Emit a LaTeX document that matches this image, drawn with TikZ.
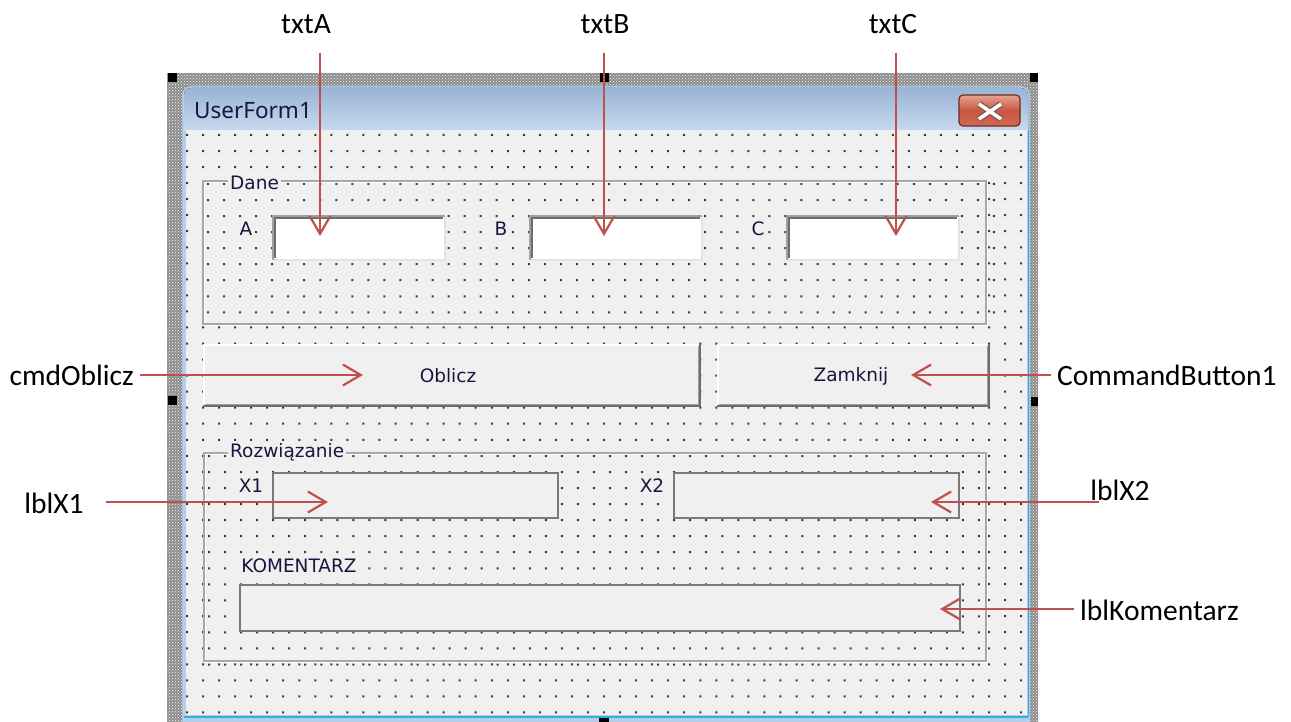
\documentclass[tikz,border=0pt]{standalone}
\usepackage{fontspec}
\setmainfont{Carlito}
\newfontfamily\uifont{DejaVu Sans}
\newfontfamily\titlefont{Noto Sans}
\usetikzlibrary{arrows.meta,patterns,calc}
\definecolor{formbg}{HTML}{F0F0F0}
\definecolor{dotc}{HTML}{3A3A3A}
\definecolor{arrred}{HTML}{C0504D}
\definecolor{uitext}{HTML}{16163E}
\definecolor{framegray}{HTML}{A8A8A8}
\definecolor{edgedark}{HTML}{6D6D6D}
\definecolor{edgemid}{HTML}{A0A0A0}
\definecolor{edgelight}{HTML}{E3E3E3}
\definecolor{lblborder}{HTML}{7A7A7A}
\definecolor{titletop}{HTML}{99B4D6}
\definecolor{titlebot}{HTML}{C8DAEE}
\definecolor{winedge}{HTML}{B4CEEA}
\definecolor{wincyan}{HTML}{30B0DC}
\definecolor{closetop}{HTML}{E6A494}
\definecolor{closemid}{HTML}{C85640}
\definecolor{closebot}{HTML}{D26A52}
\definecolor{closeedge}{HTML}{6E2A22}
\definecolor{closex}{HTML}{8A5A52}

\newcommand\dotgrid[4]{%
  \pgfmathtruncatemacro\gnx{(#3-#1)/16.04}%
  \pgfmathtruncatemacro\gny{(#4-#2)/16.04}%
  \fill[dotc] foreach \gi in {0,...,\gnx}{ foreach \gj in {0,...,\gny}{ ({#1+\gi*16.04-1},{#2+\gj*16.04-1}) rectangle ++(2,2) } };%
}
\newcommand\sunkenbox[4]{%
  \fill[white] (#1,#2) rectangle (#3,#4);
  \draw[line width=2, draw=edgelight] (#1+1,#4-1) -- (#3-1,#4-1) -- (#3-1,#2+1);
  \draw[line width=2, draw=edgemid] (#1+1,#4-1) -- (#1+1,#2+1) -- (#3-1,#2+1);
  \draw[line width=2.5, draw=edgedark] (#1+3.2,#4-3) -- (#1+3.2,#2+3.2) -- (#3-3,#2+3.2);
}
\newcommand\raisedbox[4]{%
  \fill[formbg] (#1,#2) rectangle (#3,#4);
  \draw[line width=2, white] (#1+1,#4-1) -- (#1+1,#2+1) -- (#3-1,#2+1);
  \draw[line width=1.5, draw=edgemid] (#1+2,#4-2.5) -- (#3-2.5,#4-2.5) -- (#3-2.5,#2+2);
  \draw[line width=2, draw=edgedark] (#1,#4-1) -- (#3-1,#4-1) -- (#3-1,#2);
}
\newcommand\flatbox[4]{%
  \fill[formbg] (#1,#2) rectangle (#3,#4);
  \draw[line width=2, draw=lblborder] (#1+1,#2+1) rectangle (#3-1,#4-1);
}
\newcommand\vbframe[4]{%
  \fill[formbg] (#1,#2) rectangle (#3,#4);
  \dotgrid{#1+5}{#2+3}{#3-2}{#4-2}
  \draw[white, line width=1.2] (#1+1.5,#2+1.5) rectangle (#3+1.5,#4+1.5);
  \draw[framegray, line width=1.5] (#1,#2) rectangle (#3,#4);
}

\tikzset{
  uilab/.style={font=\uifont\fontsize{18.5}{22}\selectfont, text=uitext, fill=formbg, inner xsep=2pt, inner ysep=1pt},
  btntext/.style={font=\uifont\fontsize{18.5}{22}\selectfont, text=uitext, inner sep=0pt},
  lab/.style={font=\fontsize{29.5}{34}\selectfont, inner sep=6pt, text=black},
  arr/.style={draw=arrred, line width=2.2, -{Straight Barb[length=18pt, width=21pt]}},
  handle/.style={fill=black}
}

\begin{document}
\begin{tikzpicture}[x=1pt,y=-1pt]
\useasboundingbox (0,0) rectangle (1291,722);
\fill[white] (0,0) rectangle (1291,722);

% selection band
\fill[black!45] (167,73) rectangle (1038,722);
\fill[pattern=crosshatch dots, pattern color=white] (167,73) rectangle (1038,722);

% window
\draw[draw=black!45, fill=winedge, rounded corners=8] (182,86) rectangle (1030,730);
\fill[top color=titletop, bottom color=titlebot] (184,131) {[rounded corners=7] -- (184,88) -- (1028,88)} -- (1028,131) -- cycle;
\fill[formbg] (186,130) rectangle (1027,715);
\draw[wincyan, line width=2] (184,716.5) -- (1028,716.5);
\draw[wincyan, line width=1.5] (1028.5,130) -- (1028.5,717);
\node[font=\titlefont\fontsize{22.5}{26}\selectfont, text=uitext, anchor=west, inner sep=0pt] (title) at (194,111) {UserForm1};

% close button
\draw[draw=closeedge, line width=1.2, rounded corners=4, top color=closetop, bottom color=closebot, middle color=closemid] (959,95) rectangle (1020,126);
\draw[line width=6.5, draw=closex] (979,104) -- (1001,119) (979,119) -- (1001,104);
\draw[line width=3.5, white] (979,104) -- (1001,119) (979,119) -- (1001,104);

% main grid
\dotgrid{187}{135}{1024}{714}

% handles
\fill[handle] (168,73) rectangle (177,82);
\fill[handle] (600,73) rectangle (609,82);
\fill[handle] (1030,73) rectangle (1038,82);
\fill[handle] (168,396) rectangle (177,405);
\fill[handle] (1031,397) rectangle (1038,406);
\fill[handle] (599,718) rectangle (609,722);

% Frame Dane
\vbframe{203}{181}{986}{324}
\node[uilab, anchor=west] (fDane) at (228,183) {Dane};
\node[uilab] (capA) at (246,229) {A};
\node[uilab] (capB) at (501,229) {B};
\node[uilab] (capC) at (758,229) {C};
\sunkenbox{272}{215}{446}{261}
\sunkenbox{529}{215}{703}{261}
\sunkenbox{786}{215}{960}{261}

% buttons
\raisedbox{203}{344}{701}{407}
\raisedbox{717}{344}{990}{407}
\node[btntext] (bOblicz) at (448,376) {Oblicz};
\node[btntext] (bZamknij) at (851,376) {Zamknij};

% Frame Rozwiazanie
\vbframe{204}{453}{986}{661}
\node[uilab, anchor=west] (fRozw) at (228,452) {Rozwiązanie};
\node[uilab] (capX1) at (251,486) {X1};
\node[uilab] (capX2) at (652,486) {X2};
\node[uilab] (capKom) at (299,566) {KOMENTARZ};
\flatbox{272}{472}{559}{519}
\flatbox{673}{472}{960}{519}
\flatbox{239}{584}{961}{632}

% callouts
\node[lab] (ltxtA) at (306,24) {txtA};
\node[lab] (ltxtB) at (605,24) {txtB};
\node[lab] (ltxtC) at (893,24) {txtC};
\node[lab, anchor=east] (lcmd) at (140,375) {cmdOblicz};
\node[lab, anchor=west] (lcb1) at (1051,375) {CommandButton1};
\node[lab] (lx1) at (54,503) {lblX1};
\node[lab] (lx2) at (1120,490) {lblX2};
\node[lab, anchor=west] (lkom) at (1074,610) {lblKomentarz};

\coordinate (tA) at (320,236);
\coordinate (tB) at (604,236);
\coordinate (tC) at (896,236);
\coordinate (tOb) at (363,375);
\coordinate (tZa) at (911,375);
\coordinate (tX1) at (328,502);
\coordinate (tX2) at (931,502);
\coordinate (tKom) at (940,609);

\draw[arr] ($(ltxtA.south -| tA)+(0,13)$) -- (tA);
\draw[arr] ($(ltxtB.south -| tB)+(0,13)$) -- (tB);
\draw[arr] ($(ltxtC.south -| tC)+(0,13)$) -- (tC);
\draw[arr] (lcmd.east |- tOb) -- (tOb);
\draw[arr] (lcb1.west |- tZa) -- (tZa);
\draw[arr] ($(lx1.east |- tX1)+(16,0)$) -- (tX1);
\draw[arr] ($(lx2.west |- tX2)+(15,0)$) -- (tX2);
\draw[arr] (lkom.west |- tKom) -- (tKom);
\end{tikzpicture}
\end{document}
